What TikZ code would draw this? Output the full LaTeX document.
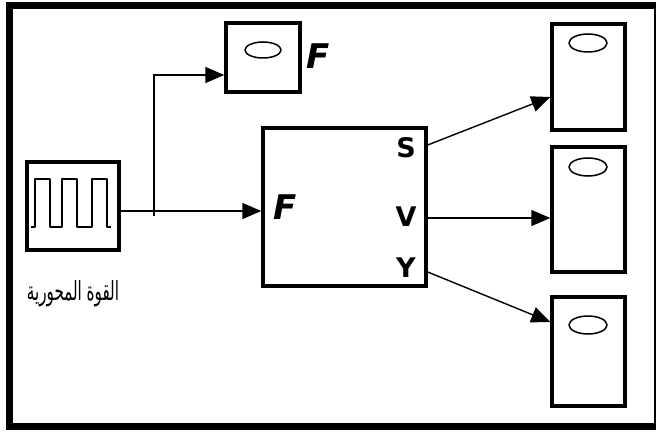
\documentclass[tikz,border=0pt]{standalone}
\usepackage{fontspec}
\usetikzlibrary{arrows.meta,shapes.geometric}
\newfontfamily\labfont{DejaVu Sans}
\newfontfamily\arabicfont[Script=Arabic]{DejaVu Sans}
\TeXXeTstate=1
\tikzset{
  blk/.style={draw, line width=3.4pt, rectangle, inner sep=0pt},
  conn/.style={line width=1.4pt, -{Triangle[length=19pt,width=16pt]}},
  lens/.style={draw, ellipse, line width=1.5pt, inner sep=0pt},
  portlab/.style={font=\labfont\bfseries\fontsize{27}{27}\selectfont, inner sep=0pt},
  flab/.style={font=\labfont\bfseries\itshape\fontsize{34}{34}\selectfont, inner sep=0pt}
}
\begin{document}
\begin{tikzpicture}[x=1pt,y=-1pt]
\useasboundingbox (0,0) rectangle (656,433);
\fill[white] (0,0) rectangle (656,433);
\draw[line width=7pt] (9,6) rectangle (657,426);
% source block
\node[blk, minimum width=92pt, minimum height=88pt] (src) at (73,206) {};
\draw[line width=2.6pt, line join=round]
  (31,227) -- (35,227) -- (35,179) -- (50,179) -- (50,227) -- (62,227) -- (62,179)
  -- (77,179) -- (77,227) -- (92,227) -- (92,179) -- (107,179) -- (107,227) -- (111,227);
\node[inner sep=0pt] (srclab) at (73,294) {\resizebox{92pt}{20pt}{\arabicfont\beginR القوة المحورية\endR}};
% scope F
\node[blk, minimum width=74pt, minimum height=69pt] (scf) at (263,57.5) {};
\node[lens, minimum width=36pt, minimum height=16pt] (scfe) at (263,50) {};
\node[flab] (scfl) at (318,56) {F};
% system block
\node[blk, minimum width=163pt, minimum height=158pt] (sys) at (344.5,207) {};
\node[flab] (sysf) at (285,207) {F};
\node[portlab] (ps) at (406,148) {S};
\node[portlab] (pv) at (406,217) {V};
\node[portlab] (py) at (406,268) {Y};
% output scopes
\node[blk, minimum width=73pt, minimum height=106pt] (o1) at (588.5,77) {};
\node[blk, minimum width=73pt, minimum height=125pt] (o2) at (588.5,209.5) {};
\node[blk, minimum width=73pt, minimum height=109pt] (o3) at (588.5,351.5) {};
\node[lens, minimum width=38pt, minimum height=18pt] (e1) at (588,43) {};
\node[lens, minimum width=38pt, minimum height=18pt] (e2) at (588,167) {};
\node[lens, minimum width=38pt, minimum height=18pt] (e3) at (588,325) {};
% connectors
\coordinate (mainy) at (0,211);
\coordinate (bstart) at (154,216);
\draw[conn] (src.east |- mainy) -- (sys.west |- mainy);
\draw[conn] (bstart) |- (scf.west |- 0,75);
\draw[conn] (sys.east |- 0,145) -- (o1.west |- 0,97);
\draw[conn] (sys.east |- 0,218) -- (o2.west |- 0,218);
\draw[conn] (sys.east |- 0,272) -- (o3.west |- 0,322);
\end{tikzpicture}
\end{document}
